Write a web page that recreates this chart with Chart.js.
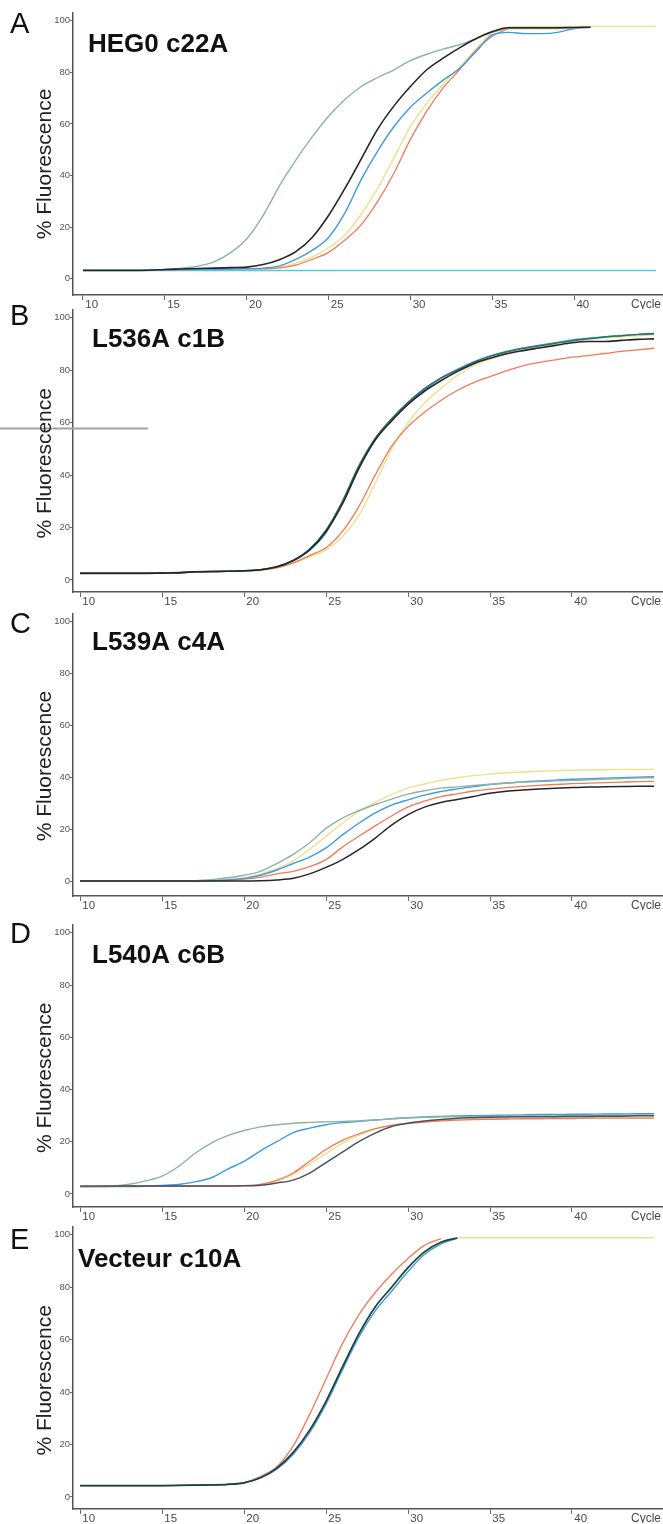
<!DOCTYPE html>
<html>
<head>
<meta charset="utf-8">
<script src="https://cdn.jsdelivr.net/npm/chart.js@4.4.1/dist/chart.umd.min.js"></script>
<style>
  html, body { margin: 0; padding: 0; background: #fff; }
  #page { position: relative; width: 663px; height: 1524px; overflow: hidden; background: #fff; }
  .panel { position: absolute; left: 0; width: 663px; height: 304px; }
  .panel canvas { display: block; }
</style>
</head>
<body>
<div id="page">
  <div class="panel" style="top:5px"><canvas id="pA" width="663" height="304"></canvas></div>
  <div class="panel" style="top:302px"><canvas id="pB" width="663" height="304"></canvas></div>
  <div class="panel" style="top:606px"><canvas id="pC" width="663" height="304"></canvas></div>
  <div class="panel" style="top:917px"><canvas id="pD" width="663" height="304"></canvas></div>
  <div class="panel" style="top:1219px"><canvas id="pE" width="663" height="304"></canvas></div>
</div>
<script>
// PCR cycle numbers sampled for every amplification curve
const cycles = [10, 11, 12, 13, 14, 15, 16, 17, 18, 19,
                20, 21, 22, 23, 24, 25, 26, 27, 28, 29,
                30, 31, 32, 33, 34, 35, 36, 37, 38, 39,
                40, 41, 42, 43, 44, 45];
const xTicks = [10, 15, 20, 25, 30, 35, 40];
const yTicks = [0, 20, 40, 60, 80, 100];
const panelLetters = ['A', 'B', 'C', 'D', 'E'];
const panelTitles = ['HEG0 c22A', 'L536A c1B', 'L539A c4A', 'L540A c6B', 'Vecteur c10A'];

// HEG0 c22A  (% fluorescence per cycle)
const hegBlack  = [3.2,3.2,3.2,3.2,3.3,3.6,3.8,4.0,4.1,4.3, 4.5,5.5,7.4,10.5,16,24.5,35,46.5,58,67, 74.5,81,85.5,89.5,93,95.8,97.3,97.3,97.3,97.3, 97.4,97.5,null,null,null,null];
const hegGrey   = [3.3,3.3,3.3,3.3,3.3,3.6,4.1,4.9,6.5,10, 15.5,24.5,36,46,55,63,69.5,74.5,78,81, 84.5,87,89,90.7,93,95.5,97,97,97,97, 97.2,97.5,null,null,null,null];
const hegBlue   = [3.3,3.3,3.3,3.3,3.3,3.4,3.5,3.6,3.7,3.8, 3.9,4.1,5,7.5,11,16,25.5,38.5,49.5,59, 66.5,72,77,81.5,88,94.5,95.5,95,95,95.5, 97,97.5,null,null,null,null];
const hegOrange = [3.3,3.3,3.3,3.3,3.3,3.4,3.5,3.6,3.7,3.8, 3.9,3.8,4.2,5.3,7.5,10.2,15,21,30,41, 54,65,74,81,88.5,94,97,null,null,null, null,null,null,null,null,null];
const hegYellow = [3.3,3.3,3.3,3.3,3.3,3.4,3.5,3.6,3.7,3.8, 3.9,3.9,4.5,6,8.5,12,17,25,35,47, 59,68,75.5,82,89,95.5,97.6,97.8,97.8,97.8, 97.8,97.8,97.8,97.8,97.8,97.8];
const hegCyan   = [3.2,3.2,3.2,3.2,3.2,3.2,3.2,3.2,3.2,3.2, 3.2,3.2,3.2,3.2,3.2,3.2,3.2,3.2,3.2,3.2, 3.2,3.2,3.2,3.2,3.2,3.2,3.2,3.2,3.2,3.2, 3.2,3.2,3.2,3.2,3.2,3.2];

// L536A c1B
const l536Black  = [2.5,2.5,2.5,2.5,2.5,2.6,2.7,3.1,3.2,3.3, 3.5,3.9,5,7.4,11.5,18.5,29,42.5,53.4,60.7, 67,72,76,79.5,82.5,84.6,86.3,87.5,88.5,89.5, 90.5,91,91,91.4,91.8,92];
const l536Teal   = [2.6,2.6,2.6,2.6,2.6,2.7,2.8,3.1,3.2,3.3, 3.5,3.9,5,7.5,11.8,19,30,43.5,54,61.5, 67.8,73,77,80,83,85.3,87,88.3,89.3,90.3, 91.3,92,92.7,93.2,93.7,94];
const l536Blue   = [2.6,2.6,2.6,2.6,2.6,2.7,2.8,3.1,3.2,3.3, 3.5,3.9,5,7.3,11.3,18,29.5,43,54,61.3, 67.5,72.6,77,80.3,83.2,85.5,87.2,88.5,89.6,90.5, 91.6,92.2,92.8,93.2,93.6,93.8];
const l536Orange = [2.5,2.5,2.5,2.5,2.5,2.6,2.7,3.1,3.2,3.3, 3.5,3.7,4.6,6.5,9.3,12.3,18.5,28,40,51, 58.5,64,68.5,72.3,75.3,77.6,79.8,81.7,83,84, 85,85.6,86.4,87.2,87.8,88.4];
const l536Yellow = [2.5,2.5,2.5,2.5,2.5,2.6,2.7,3.1,3.2,3.3, 3.5,3.7,4.6,6.3,8.8,11.5,16.5,24.5,37,50, 60,67.5,73,78,81.8,84.2,86.2,87.8,89,90, 91,91.8,92.4,92.8,93.2,93.5];

// L539A c4A
const l539Black  = [0.3,0.3,0.3,0.3,0.3,0.3,0.3,0.3,0.3,0.3, 0.3,0.4,0.7,1.3,3,5.5,8.5,12.3,16.8,21.8, 25.8,28.7,30.5,31.6,32.8,34,34.8,35.3,35.7,36, 36.2,36.4,36.5,36.6,36.7,36.7];
const l539Green  = [0.3,0.3,0.3,0.3,0.3,0.3,0.3,0.4,0.8,1.5, 2.5,4,7,10.5,15,20.5,24.5,27.3,29.7,31.8, 33.7,35,36,36.5,37,37.5,38,38.3,38.5,38.8, 39,39.2,39.5,39.7,39.9,40];
const l539Blue   = [0.3,0.3,0.3,0.3,0.3,0.3,0.3,0.3,0.4,0.7, 1.3,2.5,4.5,7,9.5,13,18,22.5,26.5,29.5, 31.5,33.3,34.7,35.7,36.6,37.4,38,38.4,38.8,39.1, 39.4,39.6,39.8,40,40.2,40.4];
const l539Orange = [0.3,0.3,0.3,0.3,0.3,0.3,0.3,0.3,0.4,0.6, 1,1.8,3,4,5.8,8.5,13.3,17.5,21.5,25.3, 28.8,31,32.7,33.8,34.9,35.6,36.2,36.7,37.1,37.4, 37.7,37.9,38.1,38.3,38.5,38.6];
const l539Yellow = [0.3,0.3,0.3,0.3,0.3,0.3,0.3,0.3,0.6,1.0, 1.5,3,5,8,12.5,17.5,22.5,27,30.5,33.5, 36,37.6,39,40,40.8,41.4,41.9,42.2,42.5,42.7, 42.9,43,43.1,43.2,43.2,43.2];

// L540A c6B
const l540Black  = [3,3,3,3,3,3,3,3,3,3, 3.1,3.3,4.2,5.3,8,12,16,20,23.3,25.8, 27.1,27.9,28.5,29,29.2,29.4,29.5,29.6,29.6,29.6, 29.7,29.7,29.8,29.8,29.9,29.9];
const l540Green  = [2.8,2.8,3,3.7,5,6.8,10.5,15.5,19.5,22.3, 24.3,25.7,26.5,27.1,27.4,27.6,27.8,28,28.3,28.8, 29.2,29.4,29.5,29.6,29.6,29.7,29.8,29.8,29.9,29.9, 30,30,30.1,30.1,30.2,30.2];
const l540Blue   = [2.8,2.8,2.9,3,3.1,3.3,3.6,4.6,6.2,9.5, 12.5,16.5,20,23.5,25.2,26.5,27.3,27.8,28.3,28.8, 29.2,29.5,29.7,29.9,30,30.1,30.2,30.3,30.4,30.4, 30.5,30.5,30.6,30.6,30.7,30.7];
const l540Orange = [2.8,2.8,2.8,2.8,2.9,3,3,3,3,3, 3.2,3.7,5.2,8,12.5,17,20.5,23,25,26.3, 27,27.5,28,28.3,28.5,28.6,28.7,28.8,28.8,28.9, 28.9,29,29,29,29,29];
const l540Yellow = [3,3,3,3,3,3,3,3,3,3, 3.1,3.5,5,7.5,11.5,15.5,19.5,22.5,24.8,26.3, 27.2,27.8,28.2,28.5,28.7,28.8,28.9,29,29,29.1, 29.1,29.2,29.2,29.3,29.3,29.3];

// Vecteur c10A
const vecBlack  = [4.3,4.3,4.3,4.3,4.3,4.3,4.4,4.5,4.6,4.8, 5.4,7.3,11,17,25.5,36.5,49.5,62.2,72.5,80, 87.5,93.5,97.2,98.8,null,null,null,null,null,null, null,null,null,null,null,null];
const vecBlue   = [4.3,4.3,4.3,4.3,4.3,4.3,4.4,4.5,4.6,4.8, 5.4,7.3,10.6,16.3,24.5,35.5,48.5,61,71,78.5, 86,92.5,96.5,98.7,null,null,null,null,null,null, null,null,null,null,null,null];
const vecOrange = [4.3,4.3,4.3,4.3,4.3,4.3,4.4,4.5,4.6,4.8, 5.5,7.8,11.5,19.5,31.5,45,58.5,69.5,78,85, 91,96,98.6,null,null,null,null,null,null,null, null,null,null,null,null,null];
const vecYellow = [4.3,4.3,4.3,4.3,4.3,4.3,4.4,4.5,4.6,4.8, 5.4,7.3,11,17,25.5,36.5,50,62,72.5,80, 87.5,93,96.8,98.9,98.9,98.9,98.9,98.9,98.9,98.9, 98.9,98.9,98.9,98.9,98.9,98.9];

// Line colours of the instrument channels
const C_BLACK  = '#262626';
const C_GREY   = '#8db3a4';
const C_BLUE   = '#3d9be0';
const C_ORANGE = '#f27a58';
const C_YELLOW = '#efe08a';
const C_CYAN   = '#45cdf2';
const C_TEAL   = '#2f6f68';
const C_SLATE  = '#4b5060';
const C_DARK   = '#20413f';

const FONT = '"Liberation Sans", Arial, Helvetica, sans-serif';
Chart.defaults.font.family = FONT;

// Letters, titles, axis caption and the "Cycle" label
const panelText = {
  id: 'panelText',
  afterDraw(chart, args, o) {
    const ctx = chart.ctx;
    const ys = chart.scales.y;
    const area = chart.chartArea;
    const top100 = ys.getPixelForValue(100);
    ctx.save();
    if (o.rule) {
      // grey rule across the left margin
      ctx.strokeStyle = '#a3a3a3';
      ctx.lineWidth = 2;
      ctx.beginPath();
      const ry = Math.round(ys.getPixelForValue(o.rule.value)) + 0.5;
      ctx.moveTo(o.rule.from, ry);
      ctx.lineTo(o.rule.to, ry);
      ctx.stroke();
    }
    ctx.textAlign = 'left';
    ctx.textBaseline = 'alphabetic';
    ctx.fillStyle = '#111';
    ctx.font = '29px ' + FONT;
    ctx.fillText(o.letter, 10, top100 + o.letterDy);
    ctx.font = 'bold 26px ' + FONT;
    ctx.fillText(o.title, o.titleX, top100 + o.titleDy);

    ctx.save();
    ctx.translate(51, ys.getPixelForValue(44.5));
    ctx.rotate(-Math.PI / 2);
    ctx.textAlign = 'center';
    ctx.font = '21px ' + FONT;
    ctx.fillStyle = '#222';
    ctx.fillText('% Fluorescence', 0, 0);
    ctx.restore();

    ctx.font = '12px ' + FONT;
    ctx.fillStyle = '#4a4a4a';
    ctx.fillText('Cycle', 631, area.bottom + 13);
    ctx.restore();
  }
};
Chart.register(panelText);

const panels = [
  { id: 'pA', yMin: -6.3, xMin: 9.39, xMax: 45.43, titleX: 88, titleDy: 31, letterDy: 12,
    series: [[hegBlack, C_BLACK, 1.6], [hegGrey, C_GREY, 1.4], [hegBlue, C_BLUE, 1.4],
             [hegOrange, C_ORANGE, 1.3], [hegYellow, C_YELLOW, 1.4], [hegCyan, C_CYAN, 1.3]] },
  { id: 'pB', yMin: -4.6, xMin: 9.57, xMax: 45.55, titleX: 92, titleDy: 29, letterDy: 7,
    rule: { value: 58, from: 0, to: 148 },
    series: [[l536Black, C_BLACK, 1.6], [l536Teal, C_TEAL, 1.5], [l536Blue, C_BLUE, 1.4],
             [l536Orange, C_ORANGE, 1.3], [l536Yellow, C_YELLOW, 1.4]] },
  { id: 'pC', yMin: -5.5, xMin: 9.57, xMax: 45.55, titleX: 92, titleDy: 28, letterDy: 11,
    series: [[l539Black, C_BLACK, 1.5], [l539Green, C_GREY, 1.4], [l539Blue, C_BLUE, 1.4],
             [l539Orange, C_ORANGE, 1.3], [l539Yellow, C_YELLOW, 1.4]] },
  { id: 'pD', yMin: -5.0, xMin: 9.57, xMax: 45.55, titleX: 92, titleDy: 30, letterDy: 10,
    series: [[l540Black, C_SLATE, 1.5], [l540Green, C_GREY, 1.4], [l540Blue, C_BLUE, 1.4],
             [l540Orange, C_ORANGE, 1.3], [l540Yellow, C_YELLOW, 1.4]] },
  { id: 'pE', yMin: -4.6, xMin: 9.57, xMax: 45.55, titleX: 78, titleDy: 32, letterDy: 14,
    series: [[vecBlack, C_DARK, 1.7], [vecBlue, C_BLUE, 1.4],
             [vecOrange, C_ORANGE, 1.3], [vecYellow, C_YELLOW, 1.4]] }
];

panels.forEach((p, k) => {
  const datasets = p.series.map(([values, colour, width]) => ({
    data: cycles.map((c, i) => ({ x: c, y: values[i] })),
    borderColor: colour,
    borderWidth: width,
    pointRadius: 0,
    fill: false,
    spanGaps: false,
    cubicInterpolationMode: 'monotone'
  }));

  new Chart(document.getElementById(p.id), {
    type: 'line',
    data: { datasets },
    options: {
      responsive: false,
      animation: false,
      events: [],
      layout: { padding: { top: 8, left: 0, right: 0, bottom: 0 } },
      plugins: {
        legend: { display: false },
        tooltip: { enabled: false },
        panelText: { letter: panelLetters[k], title: panelTitles[k], titleX: p.titleX,
                     titleDy: p.titleDy, letterDy: p.letterDy, rule: p.rule || null }
      },
      scales: {
        x: {
          type: 'linear', min: p.xMin, max: p.xMax,
          afterBuildTicks: a => { a.ticks = xTicks.map(v => ({ value: v })); },
          afterFit: a => { a.height = 14; },
          grid: { drawOnChartArea: false, drawTicks: true, tickLength: 5, color: '#6a6a6a', lineWidth: 1 },
          border: { display: true, color: '#555', width: 1.5 },
          ticks: { autoSkip: false, maxRotation: 0, minRotation: 0, align: 'start', padding: -2,
                   color: '#4a4a4a', font: { size: 11.5 }, callback: v => '\u2009' + v }
        },
        y: {
          type: 'linear', min: p.yMin, max: 103,
          afterBuildTicks: a => { a.ticks = yTicks.map(v => ({ value: v })); },
          afterFit: a => { a.width = 73; },
          grid: { drawOnChartArea: false, drawTicks: true, tickLength: 3, color: '#6a6a6a', lineWidth: 1 },
          border: { display: true, color: '#555', width: 1.5 },
          ticks: { padding: 0, color: '#555', font: { size: 9.5 } }
        }
      }
    }
  });
});
</script>
</body>
</html>
